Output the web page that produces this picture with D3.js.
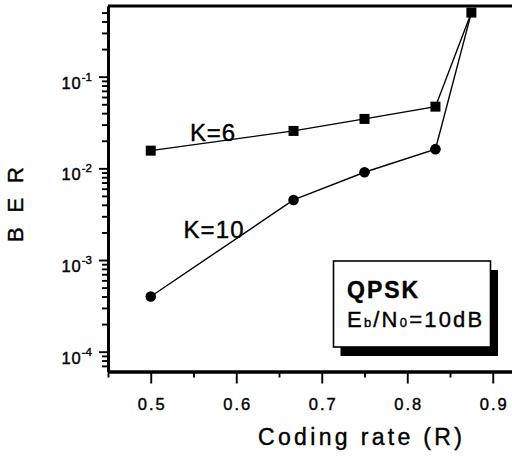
<!DOCTYPE html>
<html>
<head>
<meta charset="utf-8">
<script src="https://cdn.jsdelivr.net/npm/d3@7"></script>
<style>
  html, body { margin: 0; padding: 0; background: #fff; }
  svg { display: block; }
  text { font-family: "Liberation Sans", Arial, Helvetica, sans-serif; fill: #000; stroke: #000; stroke-width: 0.4px; }
</style>
</head>
<body>
<script>
// ---- data ----
const rates = [0.5, 0.667, 0.75, 0.833, 0.875];
const berK6 = [0.0156, 0.0256, 0.0346, 0.0471, 0.50];
const berK10 = [0.0004, 0.00452, 0.00906, 0.0162, 0.50];
const xMajorTicks = [0.5, 0.6, 0.7, 0.8, 0.9];
const xMinorTicks = [0.45, 0.55, 0.65, 0.75, 0.85, 0.95];
const yMajorTicks = [1e-4, 1e-3, 1e-2, 1e-1];
const yMajorExp = ["-4", "-3", "-2", "-1"];
const seriesLabels = ["K=6", "K=10"];
const legendTitle = "QPSK";

const W = 512, H = 461;
const svg = d3.select("body").append("svg").attr("width", W).attr("height", H);

const x = d3.scaleLinear().domain([0.45, 0.95]).range([108, 535.5]);
const y = d3.scaleLog().domain([6.08e-5, 0.59]).range([371.5, 6]);

// minor y ticks
const yMinor = [];
for (let e = -5; e <= -1; e++) {
  for (let m = 2; m <= 9; m++) {
    const v = m * Math.pow(10, e);
    if (v >= y.domain()[0] && v <= y.domain()[1]) yMinor.push(v);
  }
}

const axisStyle = g => {
  g.selectAll("path").attr("stroke", "#000").attr("stroke-width", 2.8);
  g.selectAll("line").attr("stroke", "#000").attr("stroke-width", 1.9);
};

// y axis
svg.append("g").attr("transform", "translate(108,0)")
  .call(d3.axisLeft(y).tickValues(yMinor).tickSize(6).tickSizeOuter(0).tickFormat(""))
  .call(axisStyle);
svg.append("g").attr("transform", "translate(108,0)")
  .call(d3.axisLeft(y).tickValues(yMajorTicks).tickSize(9).tickSizeOuter(0).tickFormat(""))
  .call(axisStyle);

// y tick labels
yMajorTicks.forEach((v, i) => {
  const t = svg.append("text")
    .attr("x", 92).attr("y", y(v) + 12)
    .attr("text-anchor", "end")
    .style("font-size", "16.5px");
  t.append("tspan").text("10").style("letter-spacing", "1px");
  t.append("tspan").text(yMajorExp[i]).attr("dy", -8).style("font-size", "11.5px");
});

// x axis
svg.append("g").attr("transform", "translate(0,371.5)")
  .call(d3.axisBottom(x).tickValues(xMinorTicks).tickSize(6).tickSizeOuter(0).tickFormat(""))
  .call(axisStyle);
const gx = svg.append("g").attr("transform", "translate(0,371.5)")
  .call(d3.axisBottom(x).tickValues(xMajorTicks).tickSize(12).tickSizeOuter(0).tickFormat(d3.format(".1f")))
  .call(axisStyle);
gx.selectAll("text")
  .attr("y", 0).attr("dy", null)
  .attr("transform", "translate(1,38)")
  .style("font-size", "16.5px")
  .style("letter-spacing", "2px")
  .style("font-family", "'Liberation Sans', Arial, sans-serif")
  .style("stroke", "#000").style("stroke-width", "0.4px");

// top frame line
svg.append("line")
  .attr("x1", 108).attr("x2", W).attr("y1", y.range()[1]).attr("y2", y.range()[1])
  .attr("stroke", "#000").attr("stroke-width", 2.8);

// axis titles
svg.append("text")
  .attr("x", 360).attr("y", 445)
  .attr("text-anchor", "middle")
  .attr("textLength", 204).attr("lengthAdjust", "spacing")
  .style("font-size", "23px")
  .text("Coding rate (R)");

svg.append("text")
  .attr("transform", "translate(23,204.5) rotate(-90)")
  .attr("text-anchor", "middle")
  .attr("textLength", 75).attr("lengthAdjust", "spacing")
  .style("font-size", "22px")
  .text("B E R");

// lines
const line = d3.line().x(d => x(d[0])).y(d => y(d[1]));
const s6 = rates.map((r, i) => [r, berK6[i]]);
const s10 = rates.map((r, i) => [r, berK10[i]]);

svg.append("path").datum(s6).attr("d", line)
  .attr("fill", "none").attr("stroke", "#000").attr("stroke-width", 1.4);
svg.append("path").datum(s10).attr("d", line)
  .attr("fill", "none").attr("stroke", "#000").attr("stroke-width", 1.4);

// markers
svg.selectAll("rect.sq").data(s6).enter().append("rect")
  .attr("class", "sq")
  .attr("x", d => x(d[0]) - 5).attr("y", d => y(d[1]) - 5)
  .attr("width", 10).attr("height", 10).attr("fill", "#000");
svg.selectAll("circle.ci").data(s10.slice(0, 4)).enter().append("circle")
  .attr("class", "ci")
  .attr("cx", d => x(d[0])).attr("cy", d => y(d[1]))
  .attr("r", 5.3).attr("fill", "#000");

// series labels
svg.append("text")
  .attr("x", 190).attr("y", 140.5)
  .attr("textLength", 45).attr("lengthAdjust", "spacing")
  .style("font-size", "24px")
  .text(seriesLabels[0]);
svg.append("text")
  .attr("x", 183.5).attr("y", 238.3)
  .attr("textLength", 60).attr("lengthAdjust", "spacing")
  .style("font-size", "24px")
  .text(seriesLabels[1]);

// legend box with shadow
svg.append("rect")
  .attr("x", 340.5).attr("y", 270).attr("width", 157.5).attr("height", 86)
  .attr("fill", "#000");
svg.append("rect")
  .attr("x", 333.5).attr("y", 261).attr("width", 157).attr("height", 86)
  .attr("fill", "#fff").attr("stroke", "#000").attr("stroke-width", 1.6);

svg.append("text")
  .attr("x", 347).attr("y", 298.3)
  .style("font-size", "23px").style("font-weight", "bold")
  .style("letter-spacing", "2px")
  .text(legendTitle);

const eb = svg.append("text")
  .attr("x", 347).attr("y", 327.3)
  .style("font-size", "22px")
  .style("letter-spacing", "2.2px");
eb.append("tspan").text("E");
eb.append("tspan").text("b").style("font-size", "13px");
eb.append("tspan").text("/N");
eb.append("tspan").text("0").style("font-size", "13px");
eb.append("tspan").text("=10dB");
</script>
</body>
</html>
